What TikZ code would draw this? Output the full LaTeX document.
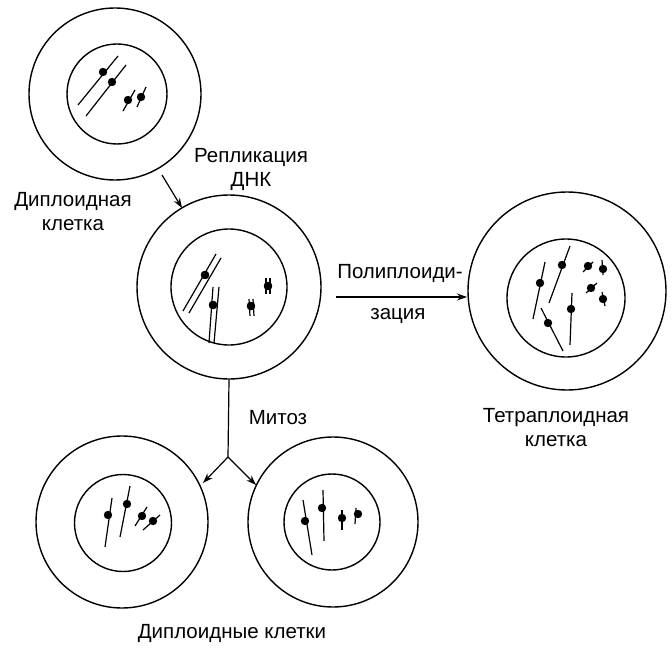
\documentclass[tikz,border=0pt]{standalone}
\usepackage{fontspec}
\setmainfont{Liberation Sans}
\usetikzlibrary{arrows.meta}
\begin{document}
\begin{tikzpicture}[x=1pt,y=-1pt,line width=1.3pt,
  lbl/.style={font=\fontsize{20.5}{24}\selectfont,align=center,inner sep=1pt},
  cell/.style={draw,circle,line width=1.4pt,inner sep=0pt},
  arr/.style={-{Stealth[length=10pt,width=7pt]},line width=1.2pt}]
\useasboundingbox (0,0) rectangle (672,650);
\newcommand{\chr}[6]{\draw[line width=1.2pt] (#1,#2)--(#3,#4); \fill (#5,#6) circle (4.2pt);}
% cells
\node[cell,minimum size=172pt] (c1) at (115,94) {};
\node[cell,minimum size=100pt] at (117,94) {};
\node[cell,minimum size=184pt] (c2) at (229,287) {};
\node[cell,minimum size=116pt] at (229,287) {};
\node[cell,minimum size=198pt] (c3) at (567,291) {};
\node[cell,minimum size=118pt] at (566,298) {};
\node[cell,minimum size=172pt] (c4) at (122,522) {};
\node[cell,minimum size=97pt] at (123,523) {};
\node[cell,minimum size=170pt] (c5) at (333,522) {};
\node[cell,minimum size=96pt] at (332,522) {};
% top cell chromosomes
\chr{78}{105}{118}{56}{103}{72}
\chr{86}{116}{126}{65}{112}{82}
\chr{123}{111}{135}{90}{128}{100}
\chr{137}{107}{146}{87}{141}{97}
% middle cell
\chr{183}{311}{216}{254}{205}{275}
\chr{189}{313}{221}{258}{205}{275}
\chr{209}{343}{213}{287}{213}{305}
\chr{214}{343}{219}{287}{213}{305}
\chr{249}{299}{250}{316}{251}{306}
\chr{253}{299}{254}{316}{251}{306}
\chr{266}{278}{266}{294}{268}{286}
\chr{270}{278}{270}{294}{268}{286}
% right cell
\chr{533}{319}{545}{262}{540}{283}
\chr{549}{303}{570}{246}{562}{265}
\chr{570}{345}{572}{293}{571}{309}
\chr{541}{308}{563}{351}{548}{323}
\chr{583}{272}{593}{262}{588}{266}
\chr{602}{260}{603}{275}{603}{269}
\chr{586}{293}{597}{283}{591}{288}
\chr{602}{292}{605}{306}{603}{299}
% bottom left
\chr{105}{547}{112}{498}{108}{515}
\chr{120}{537}{130}{486}{127}{504}
\chr{135}{526}{147}{507}{142}{516}
\chr{143}{530}{160}{515}{153}{521}
% bottom right
\chr{303}{500}{312}{555}{305}{521}
\chr{323}{490}{324}{541}{322}{508}
\chr{342}{510}{342}{530}{342}{518}
\chr{356}{508}{355}{524}{358}{514}
% labels
\node[lbl] (t1) at (251,169) {Репликация\\ДНК};
\node[lbl] (t2) at (73,212) {Диплоидная\\клетка};
\node[lbl] (t3) at (400,273) {Полиплоиди-};
\node[lbl] (t4) at (398,316) {зация};
\node[lbl] (t5) at (278,418) {Митоз};
\node[lbl] (t6) at (556,428) {Тетраплоидная\\клетка};
\node[lbl] (t7) at (232,633) {Диплоидные клетки};
% arrows
\coordinate (a1) at (162,175);
\coordinate (a2) at (182,208);
\draw[arr] (a1) -- (a2);
\coordinate (h1) at (336,297);
\coordinate (h2) at (467,297);
\draw[arr] (h1) -- (h2);
\coordinate (m) at (228,457);
\draw[line width=1.2pt] (c2.south) -- (m);
\coordinate (b1) at (203,483);
\coordinate (b2) at (256,485);
\draw[arr] (m) -- (b1);
\draw[arr] (m) -- (b2);
\end{tikzpicture}
\end{document}
